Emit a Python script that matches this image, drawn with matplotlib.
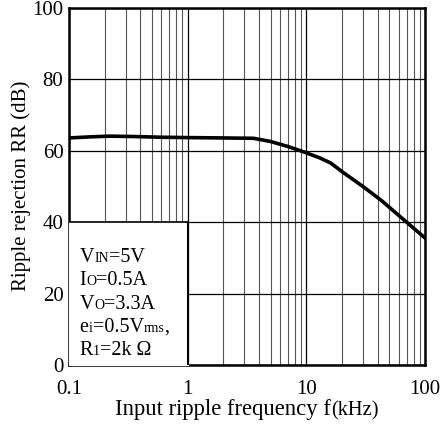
import matplotlib
matplotlib.use("Agg")
import matplotlib.pyplot as plt
import numpy as np
from matplotlib.ticker import FixedLocator, LogLocator, NullFormatter
from matplotlib.transforms import offset_copy

plt.rcParams['font.family'] = ['Liberation Serif', 'DejaVu Serif']

freq_khz = [0.1, 0.15, 0.22, 0.35, 0.6, 1.0, 2.0, 3.6, 5.0, 7.0, 9.5, 13, 16, 20.7, 30, 42.5, 55, 70, 85, 100]
rr_db = [63.6, 63.9, 64.1, 64.0, 63.8, 63.7, 63.6, 63.5, 62.6, 61.2, 59.7, 58.0, 56.6, 53.8, 50.0, 46.2, 43.0, 40.0, 37.6, 35.6]

x_ticks = [0.1, 1, 10, 100]
x_tick_labels = ["0.1", "1", "10", "100"]
y_ticks = [0, 20, 40, 60, 80, 100]

# each legend line: list of (text, is_small)
legend_lines = [
    [("V", False), ("IN", True), ("=5V", False)],
    [("I", False), ("O", True), ("=0.5A", False)],
    [("V", False), ("O", True), ("=3.3A", False)],
    [("e", False), ("i", True), ("=0.5V", False), ("rms", True), (",", False)],
    [("R", False), ("1", True), ("=2k \u03a9", False)],
]
legend_y = [28.8, 22.3, 15.8, 9.3, 2.8]

fig = plt.figure(figsize=(4.42, 4.25), dpi=100)
ax = fig.add_axes([69/442, 1-365/425, (425-69)/442, (365-8)/425])
ax.set_xscale('log')
ax.set_xlim(0.1, 100)
ax.set_ylim(0, 100)
ax.xaxis.set_major_locator(FixedLocator(x_ticks))
ax.set_xticklabels(x_tick_labels)
ax.xaxis.set_minor_locator(LogLocator(base=10, subs=np.arange(2, 10)))
ax.xaxis.set_minor_formatter(NullFormatter())
ax.set_yticks(y_ticks)
ax.grid(True, which='major', axis='both', color='black', lw=0.9)
ax.grid(True, which='minor', axis='x', color='#555555', lw=0.8)
ax.tick_params(which='both', length=0, labelsize=15)
ax.tick_params(axis='x', pad=11)
ax.tick_params(axis='y', pad=4)
for s in ax.spines.values():
    s.set_linewidth(1.8)

ax.plot(freq_khz, rr_db, color='black', lw=2.6, zorder=5)

# legend box
ax.fill_between([0.1, 1.0], 0, 40, color='white', zorder=3)
ax.plot([0.1, 1.0], [40, 40], color='black', lw=1.2, zorder=4)
ax.plot([1.0, 1.0], [0, 40], color='black', lw=1.5, zorder=4)

fig.canvas.draw()
renderer = fig.canvas.get_renderer()
for segs, yv in zip(legend_lines, legend_y):
    xoff = 0.0
    for txt, small in segs:
        tr = offset_copy(ax.transData, fig=fig, x=xoff, y=0, units='dots')
        t = ax.text(0.123, yv, txt, fontsize=10 if small else 14.5, va='baseline',
                    ha='left', zorder=6, transform=tr)
        xoff += t.get_window_extent(renderer).width

ax.set_ylabel("Ripple rejection RR (dB)", fontsize=15, labelpad=0)
ax.yaxis.set_label_coords(-0.135, 0.503)
ax.yaxis.label.set_va('center')

# x label composed of two sizes
xl1 = fig.text(0, 0, "Input ripple frequency f", fontsize=16.3, va='baseline', ha='left')
xl2 = fig.text(0, 0, "(kHz)", fontsize=14.8, va='baseline', ha='left')
w1 = xl1.get_window_extent(renderer).width
w2 = xl2.get_window_extent(renderer).width
cx = 246.5 / 442 * fig.bbox.width
base = 425 - 415
x1 = cx - (w1 + w2) / 2
xl1.set_position((x1 / fig.bbox.width, base / fig.bbox.height))
xl2.set_position(((x1 + w1) / fig.bbox.width, base / fig.bbox.height))

fig.savefig("out.png", dpi=100)
